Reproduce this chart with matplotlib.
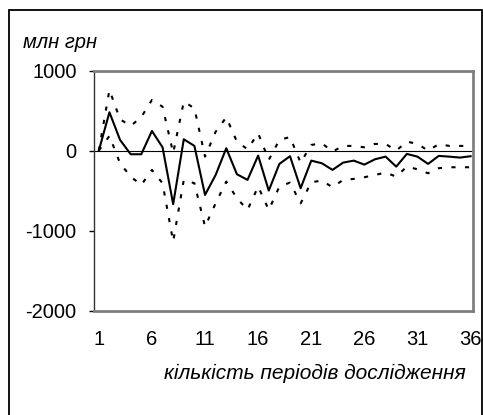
import matplotlib
matplotlib.use('Agg')
import matplotlib.pyplot as plt
from matplotlib.patches import Rectangle

# Дані: відгук та довірчі межі
periods = list(range(1, 37))
response = [0, 480, 134, -45, -45, 246, 42, -670, 142, 59,
            -554, -304, 30, -295, -366, -62, -500, -166, -70, -470,
            -125, -158, -241, -150, -125, -175, -108, -75, -200, -41,
            -75, -166, -66, -75, -87, -70]
upper = [0, 759, 392, 309, 420, 634, 550, -30, 613, 530,
         -75, 237, 417, 113, 17, 217, -116, 134, 170, -150,
         71, 92, -12, 59, 59, 42, 84, 84, 0, 113,
         84, 0, 80, 59, 59, 59]
lower = [0, 184, -158, -325, -430, -241, -408, -1137, -366, -408,
         -950, -658, -387, -595, -741, -450, -741, -450, -400, -660,
         -395, -375, -458, -366, -354, -333, -304, -275, -325, -200,
         -233, -283, -220, -208, -208, -208]
yticks = [1000, 0, -1000, -2000]
xticks = [1, 6, 11, 16, 21, 26, 31, 36]

plt.rcParams['font.family'] = ['Liberation Sans', 'DejaVu Sans']

W, H = 483, 415
fig = plt.figure(figsize=(W / 100, H / 100), dpi=100)

# рамка навколо діаграми
fig.patches.append(Rectangle((9 / W, -0.01), (482 - 9) / W, 1.01 - 10 / H,
                             transform=fig.transFigure, fill=False,
                             edgecolor='black', linewidth=1.3))

ax = fig.add_axes([93.5 / W, 1 - 310.5 / H, (472.7 - 93.5) / W, (310.5 - 70.7) / H])

dots = (0, (2.0, 4.5))
ax.plot(periods, response, color='black', linewidth=1.5, zorder=3)
ax.plot(periods, upper, color='black', linewidth=1.5, linestyle=dots, zorder=3)
ax.plot(periods, lower, color='black', linewidth=1.5, linestyle=dots, zorder=3)
ax.axhline(0, color='black', linewidth=0.8, zorder=2)

ax.set_xlim(0.5, 36.2)
ax.set_ylim(-2000, 1000)
ax.set_yticks(yticks)
ax.set_yticklabels([str(v) for v in yticks], fontsize=14.5)
ax.set_xticks(xticks)
ax.set_xticklabels([str(v) for v in xticks], fontsize=14.5)
ax.tick_params(axis='y', direction='out', length=3.6, width=1, pad=8.5)
ax.tick_params(axis='x', length=0, pad=14)

for side in ['top', 'right', 'bottom']:
    ax.spines[side].set_color('#808080')
    ax.spines[side].set_linewidth(2)
ax.spines['left'].set_color('#333333')
ax.spines['left'].set_linewidth(1)

fig.text(23 / W, 1 - 43 / H, 'млн грн', fontsize=14.5, style='italic',
         ha='left', va='center')
fig.text(315 / W, 1 - 373 / H, 'кількість періодів дослідження', fontsize=15,
         style='italic', ha='center', va='center')

fig.savefig('out.png', dpi=100)
